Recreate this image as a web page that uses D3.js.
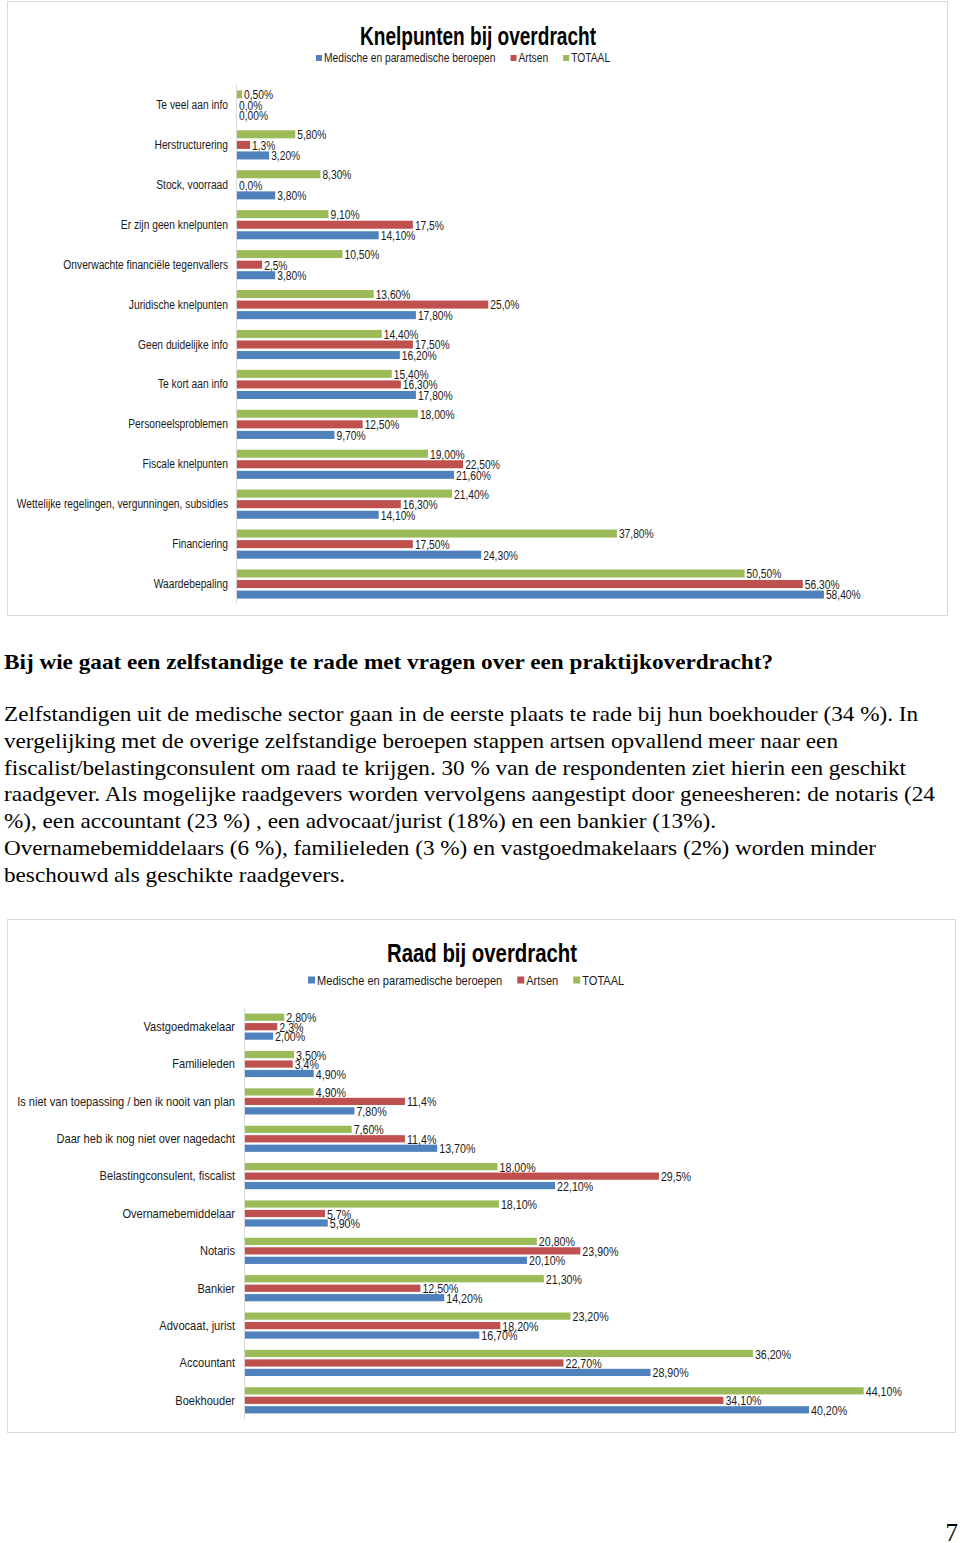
<!DOCTYPE html>
<html>
<head>
<meta charset="utf-8">
<script src="https://cdn.jsdelivr.net/npm/d3@7"></script>
<style>
  html, body { margin: 0; padding: 0; background: #fff; }
  .narrow { font-family: "Liberation Sans", Arial, sans-serif; }
  .serif { font-family: "Liberation Serif", "Times New Roman", "DejaVu Serif", serif; }
</style>
</head>
<body>
<svg id="page" width="960" height="1543"></svg>
<script>
// ---------- DATA ----------
const seriesNames = ["Medische en paramedische beroepen", "Artsen", "TOTAAL"];
const seriesColors = ["#4F81BD", "#C0504D", "#9BBB59"];

const knelTitle = "Knelpunten bij overdracht";
const knelCategories = [
  "Te veel aan info", "Herstructurering", "Stock, voorraad", "Er zijn geen knelpunten",
  "Onverwachte financiële tegenvallers", "Juridische knelpunten", "Geen duidelijke info",
  "Te kort aan info", "Personeelsproblemen", "Fiscale knelpunten",
  "Wettelijke regelingen, vergunningen, subsidies", "Financiering", "Waardebepaling"
];
const knelMedische = [0.00, 3.20, 3.80, 14.10, 3.80, 17.80, 16.20, 17.80, 9.70, 21.60, 14.10, 24.30, 58.40];
const knelArtsen   = [0.0, 1.3, 0.0, 17.5, 2.5, 25.0, 17.50, 16.30, 12.50, 22.50, 16.30, 17.50, 56.30];
const knelTotaal   = [0.50, 5.80, 8.30, 9.10, 10.50, 13.60, 14.40, 15.40, 18.00, 19.00, 21.40, 37.80, 50.50];
const knelMedischeDecimals = [2,2,2,2,2,2,2,2,2,2,2,2,2];
const knelArtsenDecimals   = [1,1,1,1,1,1,2,2,2,2,2,2,2];
const knelTotaalDecimals   = [2,2,2,2,2,2,2,2,2,2,2,2,2];

const raadTitle = "Raad bij overdracht";
const raadCategories = [
  "Vastgoedmakelaar", "Familieleden", "Is niet van toepassing / ben ik nooit van plan",
  "Daar heb ik nog niet over nagedacht", "Belastingconsulent, fiscalist", "Overnamebemiddelaar",
  "Notaris", "Bankier", "Advocaat, jurist", "Accountant", "Boekhouder"
];
const raadMedische = [2.00, 4.90, 7.80, 13.70, 22.10, 5.90, 20.10, 14.20, 16.70, 28.90, 40.20];
const raadArtsen   = [2.3, 3.4, 11.4, 11.4, 29.5, 5.7, 23.90, 12.50, 18.20, 22.70, 34.10];
const raadTotaal   = [2.80, 3.50, 4.90, 7.60, 18.00, 18.10, 20.80, 21.30, 23.20, 36.20, 44.10];
const raadMedischeDecimals = [2,2,2,2,2,2,2,2,2,2,2];
const raadArtsenDecimals   = [1,1,1,1,1,1,2,2,2,2,2];
const raadTotaalDecimals   = [2,2,2,2,2,2,2,2,2,2,2];

const headingText = "Bij wie gaat een zelfstandige te rade met vragen over een praktijkoverdracht?";
const bodyLines = [
  "Zelfstandigen uit de medische sector gaan in de eerste plaats te rade bij hun boekhouder (34 %). In",
  "vergelijking met de overige zelfstandige beroepen stappen artsen opvallend meer naar een",
  "fiscalist/belastingconsulent om raad te krijgen. 30 % van de respondenten ziet hierin een geschikt",
  "raadgever. Als mogelijke raadgevers worden vervolgens aangestipt door geneesheren: de notaris (24",
  "%), een accountant (23 %) , een advocaat/jurist (18%) en een bankier (13%).",
  "Overnamebemiddelaars (6 %), familieleden (3 %) en vastgoedmakelaars (2%) worden minder",
  "beschouwd als geschikte raadgevers."
];
const bodyLineWidths = [914, 834, 902, 931, 712, 872, 341];
const pageNumber = "7";

// ---------- DRAW ----------
const svg = d3.select("#page");
const SQUEEZE = 0.82;

function fmt(v, d) { return v.toFixed(d).replace(".", ",") + "%"; }

// compress Arial-metric text horizontally to mimic a narrow face
function squeeze(sel, factor) {
  sel.each(function () {
    const w = this.getComputedTextLength();
    if (w > 0) {
      d3.select(this).attr("textLength", w * (factor || SQUEEZE)).attr("lengthAdjust", "spacingAndGlyphs");
    }
  });
}

function drawChart(cfg) {
  const g = svg.append("g");
  g.append("rect")
    .attr("x", cfg.frame[0] + 0.5).attr("y", cfg.frame[1] + 0.5)
    .attr("width", cfg.frame[2]).attr("height", cfg.frame[3])
    .attr("fill", "#fff").attr("stroke", "#d9d9d9").attr("stroke-width", 1);

  g.append("text").attr("class", "narrow")
    .attr("x", cfg.titleX).attr("y", cfg.titleY)
    .attr("text-anchor", "middle")
    .attr("font-size", cfg.titleSize).attr("font-weight", "bold").attr("fill", "#000")
    .attr("textLength", cfg.titleW).attr("lengthAdjust", "spacingAndGlyphs")
    .text(cfg.title);

  const leg = g.append("g").attr("transform", `translate(${cfg.legendX},${cfg.legendY})`);
  let lx = 0;
  seriesNames.forEach((name, i) => {
    leg.append("rect").attr("x", lx).attr("y", -cfg.legendSq / 2)
      .attr("width", cfg.legendSq).attr("height", cfg.legendSq).attr("fill", seriesColors[i]);
    const t = leg.append("text").attr("class", "narrow")
      .attr("x", lx + cfg.legendSq + 2).attr("y", 0).attr("dy", "0.35em")
      .attr("font-size", cfg.legendFont).attr("fill", "#1a1a1a").text(name);
    squeeze(t);
    lx += cfg.legendSq + 2 + (+t.attr("textLength")) + cfg.legendGap;
  });

  const y = d3.scaleBand().domain(cfg.categories).range([cfg.yTop, cfg.yBottom])
    .paddingInner(cfg.pad).paddingOuter(cfg.pad / 2);
  const order = [2, 1, 0]; // TOTAAL top, Artsen, Medische bottom
  const yInner = d3.scaleBand().domain(order).range([0, y.bandwidth()]).paddingInner(0.24);
  const x = d3.scaleLinear().domain(cfg.xDomain).range([cfg.x0, cfg.x1]);

  g.append("line").attr("x1", cfg.x0 + 0.5).attr("x2", cfg.x0 + 0.5)
    .attr("y1", cfg.yTop).attr("y2", cfg.yBottom)
    .attr("stroke", "#d9d9d9").attr("stroke-width", 1);

  const axis = d3.axisLeft(y).tickSize(0).tickPadding(cfg.labelPad);
  const ag = g.append("g").attr("transform", `translate(${cfg.x0},0)`).call(axis);
  ag.attr("font-family", null).attr("font-size", null);
  ag.select(".domain").remove();
  const catTexts = ag.selectAll("text").attr("class", "narrow").attr("font-size", cfg.catFont).attr("fill", "#1a1a1a");
  squeeze(catTexts, cfg.catSqueeze);

  const seriesVals = [cfg.medische, cfg.artsen, cfg.totaal];
  const seriesDec = [cfg.medDec, cfg.artDec, cfg.totDec];
  const rows = [];
  cfg.categories.forEach((c, ci) => {
    order.forEach(si => rows.push({ c, si, v: seriesVals[si][ci], d: seriesDec[si][ci] }));
  });

  g.append("g").selectAll("rect").data(rows).join("rect")
    .attr("x", cfg.x0 + 1)
    .attr("y", d => y(d.c) + yInner(d.si))
    .attr("width", d => Math.max(0, x(d.v) - cfg.x0))
    .attr("height", yInner.bandwidth())
    .attr("fill", d => seriesColors[d.si]);

  const vt = g.append("g").selectAll("text").data(rows).join("text")
    .attr("class", "narrow")
    .attr("x", d => x(d.v) + 3)
    .attr("y", d => y(d.c) + yInner(d.si) + yInner.bandwidth() / 2 + 0.5)
    .attr("dy", "0.35em")
    .attr("font-size", cfg.valFont).attr("fill", "#1a1a1a")
    .text(d => fmt(d.v, d.d));
  squeeze(vt);
}

drawChart({
  frame: [7, 1, 940, 614],
  title: knelTitle, titleX: 478, titleY: 45, titleSize: 25, titleW: 236,
  legendX: 316, legendY: 58, legendSq: 6, legendFont: 12.5, legendGap: 15,
  categories: knelCategories,
  yTop: 85, yBottom: 604, pad: 0.27,
  x0: 236, x1: 236 + 603, xDomain: [0, 60],
  labelPad: 8, catFont: 12.5, catSqueeze: 0.82, valFont: 12.5,
  medische: knelMedische, artsen: knelArtsen, totaal: knelTotaal,
  medDec: knelMedischeDecimals, artDec: knelArtsenDecimals, totDec: knelTotaalDecimals
});

drawChart({
  frame: [7, 919, 948, 513],
  title: raadTitle, titleX: 482, titleY: 962, titleSize: 26, titleW: 190,
  legendX: 308, legendY: 980, legendSq: 7, legendFont: 13.5, legendGap: 15,
  categories: raadCategories,
  yTop: 1008, yBottom: 1419, pad: 0.30,
  x0: 244, x1: 244 + 701.5, xDomain: [0, 50],
  labelPad: 9, catFont: 13.5, catSqueeze: 0.82, valFont: 13,
  medische: raadMedische, artsen: raadArtsen, totaal: raadTotaal,
  medDec: raadMedischeDecimals, artDec: raadArtsenDecimals, totDec: raadTotaalDecimals
});

svg.append("text").attr("class", "serif")
  .attr("x", 4).attr("y", 669)
  .attr("font-size", 21).attr("font-weight", "bold").attr("fill", "#000")
  .attr("textLength", 769).attr("lengthAdjust", "spacingAndGlyphs")
  .text(headingText);

bodyLines.forEach((line, i) => {
  svg.append("text").attr("class", "serif")
    .attr("x", 4).attr("y", 721 + i * 26.8)
    .attr("font-size", 21).attr("fill", "#000")
    .attr("textLength", bodyLineWidths[i]).attr("lengthAdjust", "spacingAndGlyphs")
    .text(line);
});

svg.append("text").attr("class", "serif")
  .attr("x", 958).attr("y", 1541).attr("text-anchor", "end")
  .attr("font-size", 25).attr("fill", "#000").text(pageNumber);
</script>
</body>
</html>
